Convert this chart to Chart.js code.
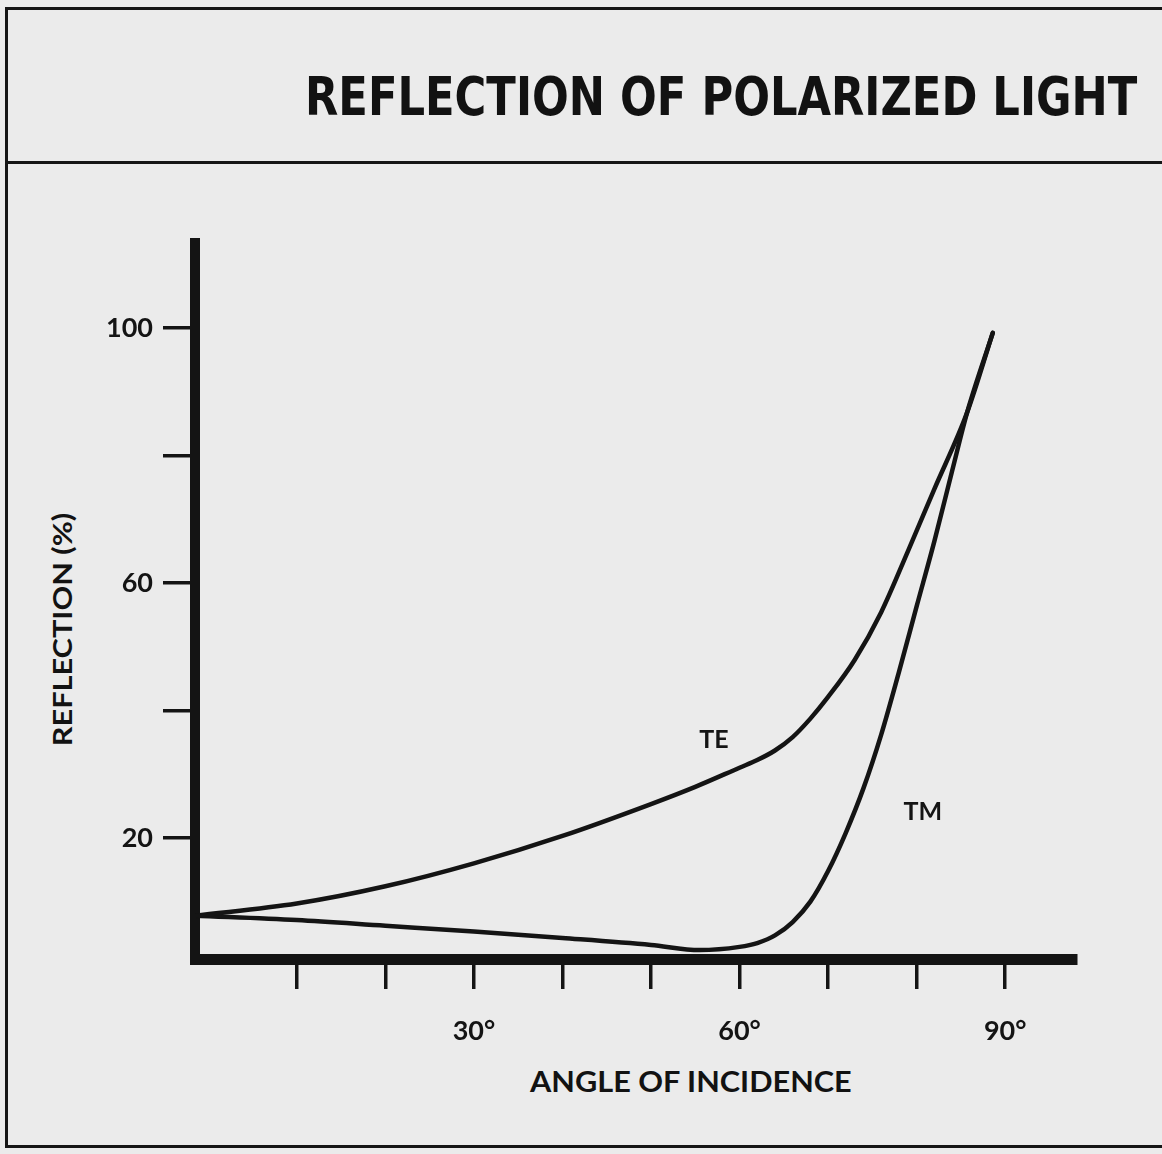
<!DOCTYPE html>
<html>
<head>
<meta charset="utf-8">
<script src="https://cdn.jsdelivr.net/npm/chart.js@4.4.1/dist/chart.umd.min.js"></script>
<style>
  html, body { margin: 0; padding: 0; }
  body { width: 1162px; height: 1154px; background: #ebebeb; position: relative; overflow: hidden; }
  #frame { position: absolute; left: 5px; top: 7px; width: 1200px; height: 1141px; border: 3px solid #151515; box-sizing: border-box; }
  #rule { position: absolute; left: 5px; top: 161px; width: 1200px; height: 0; border-top: 3px solid #151515; }
  .txt { position: absolute; white-space: nowrap; color: #121212; line-height: 1; }
  #title { left: 305px; top: 70px; font-family: "Liberation Sans Narrow", "DejaVu Sans Condensed", "Liberation Sans", sans-serif; font-weight: bold; font-size: 54px; transform-origin: 0 0; }
  #xtitle { font-family: Lato, "Open Sans", sans-serif; font-weight: bold; font-size: 28px; }
  #ytitle { font-family: Lato, "Open Sans", sans-serif; font-weight: bold; font-size: 27px; }
  canvas { position: absolute; left: 0; top: 0; }
</style>
</head>
<body>
<div id="frame"></div>
<div id="rule"></div>
<div id="title" class="txt">REFLECTION OF POLARIZED LIGHT</div>
<div id="xtitle" class="txt">ANGLE OF INCIDENCE</div>
<div id="ytitle" class="txt">REFLECTION (%)</div>
<canvas id="c" width="1162" height="1154"></canvas>
<script>
// ---- data ----
const teAngles     = [-1.5, 10, 20, 30, 40, 50, 55, 60, 62, 64, 66, 68, 70, 73, 76, 79, 82, 85.7, 88.6];
const teReflection = [7.8, 9.7, 12.4, 16.0, 20.3, 25.3, 28.0, 31.0, 32.2, 33.7, 35.8, 38.7, 42.1, 47.9, 55.4, 64.9, 74.7, 86.7, 99.2];
const tmAngles     = [-1.5, 10, 20, 30, 40, 50, 55.5, 60, 62, 64, 66, 68, 70, 72, 74, 76, 78, 80, 82, 84, 85.7, 88.6];
const tmReflection = [7.8, 7.1, 6.2, 5.3, 4.3, 3.2, 2.4, 2.9, 3.5, 4.7, 6.8, 10.0, 14.8, 20.8, 27.8, 36.2, 46.0, 56.3, 66.5, 77.5, 86.7, 99.2];

const xTickValues = [10, 20, 30, 40, 50, 60, 70, 80, 90];
const xTickLabels = ['', '', '30°', '', '', '60°', '', '', '90°'];
const yTickValues = [20, 40, 60, 80, 100];
const yTickLabels = ['20', '', '60', '', '100'];

const curveLabels       = ['TE', 'TM'];
const curveLabelAngles  = [57.1, 80.7];
const curveLabelValues  = [35.4, 24.1];

// ---- text fitting helpers (layout only) ----
function fitWidth(el, target) { return target / el.offsetWidth; }
const title = document.getElementById('title');
title.style.transform = 'scaleX(' + fitWidth(title, 832) + ')';

const xt = document.getElementById('xtitle');
const sx = fitWidth(xt, 322);
xt.style.left = (691 - xt.offsetWidth / 2) + 'px';
xt.style.top = (1083 - xt.offsetHeight / 2 - 2) + 'px';
xt.style.transform = 'scaleX(' + sx + ')';

const yt = document.getElementById('ytitle');
const sy = fitWidth(yt, 234);
yt.style.left = (62 - yt.offsetWidth / 2) + 'px';
yt.style.top = (631 - yt.offsetHeight / 2 - 2) + 'px';
yt.style.transform = 'rotate(-90deg) scaleX(' + sy + ')';

// ---- chart ----
const ink = '#141414';
const toPoints = (xs, ys) => xs.map((v, i) => ({ x: v, y: ys[i] }));
const tickFont = { family: 'Lato, "Open Sans", sans-serif', size: 27, weight: 'bold' };

const curveLabelPlugin = {
  id: 'curveLabels',
  afterDatasetsDraw(chart) {
    const { ctx, scales } = chart;
    ctx.save();
    ctx.font = 'bold 25px Lato, "Open Sans", sans-serif';
    ctx.fillStyle = ink;
    ctx.textAlign = 'center';
    ctx.textBaseline = 'middle';
    curveLabels.forEach((t, i) => {
      ctx.fillText(t, scales.x.getPixelForValue(curveLabelAngles[i]), scales.y.getPixelForValue(curveLabelValues[i]));
    });
    ctx.restore();
  }
};

new Chart(document.getElementById('c'), {
  type: 'line',
  data: {
    datasets: [
      { label: 'TE', data: toPoints(teAngles, teReflection) },
      { label: 'TM', data: toPoints(tmAngles, tmReflection) }
    ]
  },
  options: {
    responsive: false,
    animation: false,
    devicePixelRatio: 1,
    elements: {
      line: { borderColor: ink, borderWidth: 4.5, cubicInterpolationMode: 'monotone', fill: false, borderCapStyle: 'round', borderJoinStyle: 'round' },
      point: { radius: 0 }
    },
    layout: { padding: { top: 243, right: 86, left: 0, bottom: 0 } },
    plugins: { legend: { display: false }, tooltip: { enabled: false }, title: { display: false } },
    scales: {
      x: {
        type: 'linear', position: 'bottom', min: -1.5, max: 98, bounds: 'data',
        afterBuildTicks: s => { s.ticks = xTickValues.map(v => ({ value: v })); },
        afterFit: s => { s.height = 195; },
        grid: { display: true, drawOnChartArea: false, drawTicks: true, tickLength: 30, tickWidth: 3.5, tickColor: ink, lineWidth: 3.5, color: ink },
        border: { display: true, width: 11, color: ink },
        ticks: { autoSkip: false, maxRotation: 0, padding: 26, color: ink, font: tickFont, callback: (v, i) => xTickLabels[i] }
      },
      y: {
        type: 'linear', position: 'left', min: 1, max: 113.3, bounds: 'data',
        afterBuildTicks: s => { s.ticks = yTickValues.map(v => ({ value: v })); },
        afterFit: s => { s.width = 195; },
        grid: { display: true, drawOnChartArea: false, drawTicks: true, tickLength: 32, tickWidth: 3.5, tickColor: ink, lineWidth: 3.5, color: ink },
        border: { display: true, width: 10, color: ink },
        ticks: { autoSkip: false, padding: 10, color: ink, font: tickFont, callback: (v, i) => yTickLabels[i] }
      }
    }
  },
  plugins: [curveLabelPlugin]
});
</script>
</body>
</html>
